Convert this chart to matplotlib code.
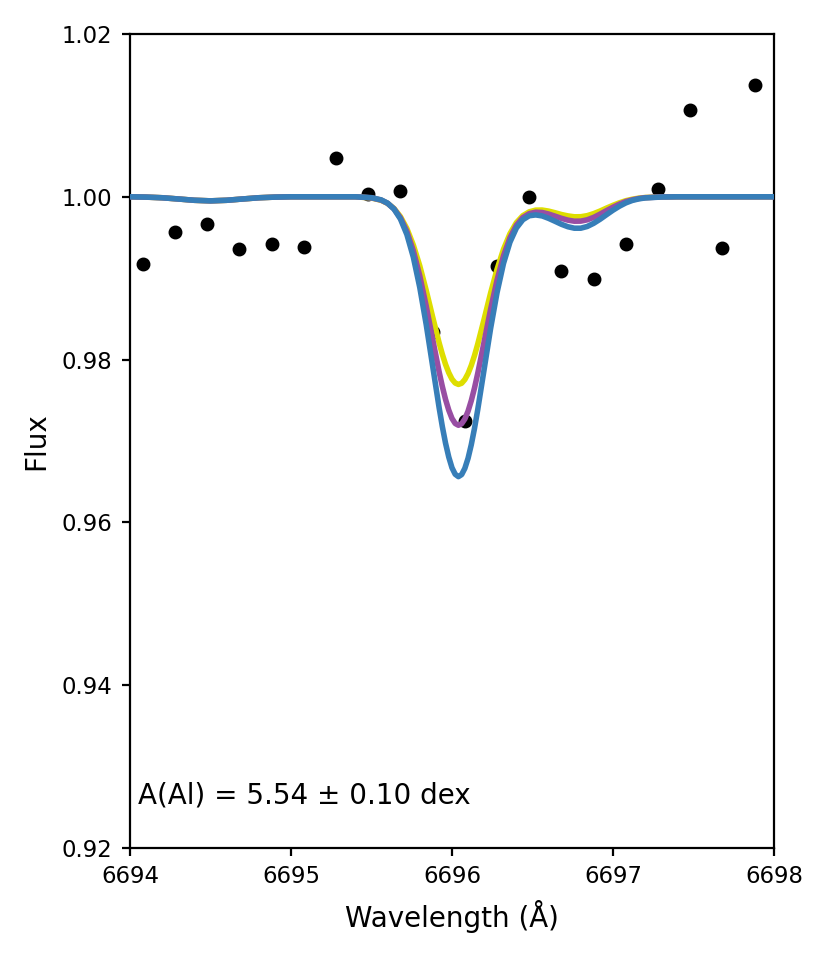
import matplotlib
matplotlib.use('Agg')
import matplotlib.pyplot as plt

# observed spectrum
obs_wave = [6694.08, 6694.28, 6694.48, 6694.68, 6694.88, 6695.08, 6695.28, 6695.48, 6695.68, 6695.88,
            6696.08, 6696.28, 6696.48, 6696.68, 6696.88, 6697.08, 6697.28, 6697.48, 6697.68, 6697.88]
obs_flux = [0.9917, 0.9957, 0.9967, 0.9936, 0.9942, 0.9938, 1.0048, 1.0004, 1.0007, 0.9834,
            0.9724, 0.9915, 1.0000, 0.9909, 0.9899, 0.9942, 1.0010, 1.0107, 0.9937, 1.0137]

# synthetic spectra wavelength grid
syn_wave = [6694.0, 6694.1, 6694.2, 6694.3, 6694.4, 6694.5, 6694.6, 6694.7, 6694.8, 6694.9,
            6695.0, 6695.2, 6695.4, 6695.5, 6695.56, 6695.60, 6695.64, 6695.68, 6695.72, 6695.76,
            6695.80, 6695.84, 6695.88, 6695.92, 6695.94, 6695.96, 6695.98, 6696.00, 6696.02, 6696.04,
            6696.06, 6696.08, 6696.10, 6696.12, 6696.14, 6696.16, 6696.20, 6696.24, 6696.28, 6696.32,
            6696.36, 6696.40, 6696.44, 6696.48, 6696.52, 6696.56, 6696.60, 6696.64, 6696.68, 6696.72,
            6696.76, 6696.80, 6696.84, 6696.88, 6696.92, 6696.96, 6697.00, 6697.04, 6697.08, 6697.12,
            6697.16, 6697.20, 6697.30, 6697.40, 6697.60, 6697.80, 6698.0]

syn_low = [1.0, 0.99996, 0.99988, 0.99973, 0.99957, 0.9995, 0.99957, 0.99973, 0.99988, 0.99996,
           1.0, 1.0, 1.0, 0.99985, 0.99957, 0.99919, 0.99856, 0.99756, 0.99609, 0.99407,
           0.99151, 0.98849, 0.98523, 0.98207, 0.98066, 0.97941, 0.97839, 0.9776, 0.97712, 0.97695,
           0.97709, 0.97755, 0.97829, 0.97929, 0.9805, 0.9819, 0.98499, 0.98818, 0.99109, 0.99355,
           0.99546, 0.99682, 0.99768, 0.99815, 0.99836, 0.99837, 0.99824, 0.99804, 0.99782, 0.99765,
           0.99754, 0.99755, 0.99768, 0.99793, 0.99825, 0.99861, 0.99895, 0.99926, 0.99952, 0.9997,
           0.99983, 0.99991, 0.99998, 1.0, 1.0, 1.0, 1.0]

syn_best = [1.0, 0.99996, 0.99988, 0.99973, 0.99957, 0.9995, 0.99957, 0.99973, 0.99988, 0.99996,
            1.0, 1.0, 1.0, 0.99987, 0.99959, 0.9992, 0.99852, 0.99741, 0.99573, 0.99337,
            0.99028, 0.98657, 0.9825, 0.97851, 0.9767, 0.97511, 0.97379, 0.97277, 0.97215, 0.97193,
            0.97212, 0.97271, 0.97367, 0.97496, 0.97652, 0.9783, 0.98221, 0.98619, 0.98977, 0.99274,
            0.99496, 0.9965, 0.99745, 0.99793, 0.99811, 0.99807, 0.99788, 0.99762, 0.99735, 0.99713,
            0.997, 0.99701, 0.99717, 0.99747, 0.99787, 0.9983, 0.99872, 0.9991, 0.99942, 0.99963,
            0.99979, 0.99989, 0.99998, 1.0, 1.0, 1.0, 1.0]

syn_high = [1.0, 0.99996, 0.99988, 0.99973, 0.99957, 0.9995, 0.99957, 0.99973, 0.99988, 0.99996,
            1.0, 1.0, 1.0, 0.99989, 0.99962, 0.99922, 0.99849, 0.99727, 0.99536, 0.99258,
            0.98886, 0.9843, 0.9792, 0.97411, 0.97178, 0.96973, 0.96803, 0.96671, 0.96591, 0.96562,
            0.96587, 0.96664, 0.96788, 0.96955, 0.97156, 0.97385, 0.97884, 0.98383, 0.98824, 0.99181,
            0.99442, 0.99616, 0.99718, 0.99767, 0.99777, 0.99765, 0.99735, 0.99699, 0.99662, 0.99632,
            0.99614, 0.99614, 0.99635, 0.99674, 0.99724, 0.9978, 0.99835, 0.99884, 0.99925, 0.99955,
            0.99974, 0.99986, 0.99997, 1.0, 1.0, 1.0, 1.0]

abund_text = 'A(Al) = 5.54 ± 0.10 dex'

fig = plt.figure(figsize=(4.15, 4.8), dpi=200)
ax = fig.add_axes([0.1566, 0.1167, 0.7759, 0.8479])

ax.plot(obs_wave, obs_flux, 'o', color='k', ms=4, zorder=1)
ax.plot(syn_wave, syn_low, color='#dede00', lw=2, zorder=2)
ax.plot(syn_wave, syn_best, color='#984ea3', lw=2, zorder=3)
ax.plot(syn_wave, syn_high, color='#377eb8', lw=2, zorder=4)

ax.set_xlim(6694, 6698)
ax.set_ylim(0.92, 1.02)
ax.set_xticks([6694, 6695, 6696, 6697, 6698])
ax.set_yticks([0.92, 0.94, 0.96, 0.98, 1.00, 1.02])
ax.ticklabel_format(useOffset=False)
ax.tick_params(labelsize=8.2, length=2.8)
ax.set_xlabel('Wavelength (Å)', fontsize=10)
ax.set_ylabel('Flux', fontsize=10)
ax.text(0.012, 0.064, abund_text, transform=ax.transAxes, fontsize=10, va='center', ha='left')

fig.savefig('out.png', dpi=200)
